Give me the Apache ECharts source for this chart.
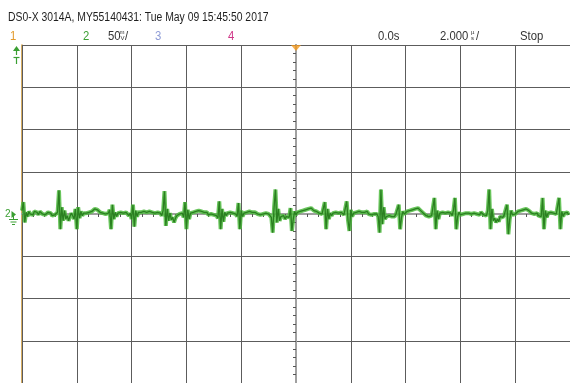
<!DOCTYPE html>
<html>
<head>
<meta charset="utf-8">
<script src="https://cdn.jsdelivr.net/npm/echarts@6/dist/echarts.min.js"></script>
<style>
  html, body { margin: 0; padding: 0; background: #ffffff; }
  #scope { width: 570px; height: 383px; }
</style>
</head>
<body>
<div id="scope"></div>
<script>
// Time base: 2.000 us/div, 10 divisions, trigger at 0.0 s (screen centre)
const startUs = -10;
const sampleStepUs = 0.05;
const timeMinUs = -10;
const timeMaxUs = 10;
const timeDivUs = 2;

// Vertical scale: channel 2 at 50 mV/div, 8 divisions
const voltMinMv = -200;
const voltMaxMv = 200;
const voltDivMv = 50;

// Channel 2 acquisition (mV), one sample every sampleStepUs
const ch2Mv = [
  4, 14, -10, 2, -3, 3, 0, 2, -1, 3, 1, 2, -1, 3, 1, 0, 2, -1, 1, 2,
  0, 1, -2, 0, -1, -3, 2, 28, -18, 8, -8, 4, -6, -2, -8, -3, 1, -2, -6, 6,
  -18, 8, -5, 3, -2, 1, 2, 1, 3, 2, 4, 3, 5, 6, 4, 5, 3, 2, 0, 1,
  -1, 0, -2, 1, 5, -18, 11, -6, 2, -3, 1, -1, 2, 0, 1, -1, 2, 0, -2, 1,
  -6, 11, -15, 4, -3, 2, 0, 2, 1, 3, 1, 2, 0, 3, 1, 2, 0, 1, -1, 2,
  0, 1, -2, 4, 27, -14, 6, -8, 1, -7, -4, -10, -5, -2, -4, 0, -2, 1, -4, 14,
  -18, 5, -6, 1, -1, 2, 1, 3, 2, 4, 2, 3, 1, 2, 0, 2, -1, 1, 0, 2,
  -1, 1, -2, -5, 15, -18, 6, -9, 2, -2, 1, -1, 2, 0, 1, -1, 0, -3, 13, -18,
  4, -3, 1, -1, 2, 1, 3, 1, 2, 0, 2, 1, 0, 2, -1, 1, 0, -2, 1, -1,
  0, -2, -4, -22, 8, 29, -10, 6, -8, -3, -5, -2, -6, -3, -1, -4, 7, -20, -6, 3,
  -1, 2, 1, 3, 2, 4, 3, 5, 4, 6, 5, 7, 5, 4, 5, 3, 2, 1, -1, 0,
  -2, 14, -18, 6, -6, 1, -2, 1, 0, 2, 0, 1, -1, 2, 0, -1, 1, 15, -8, -20,
  5, -3, 1, 0, 2, 1, 3, 1, 2, 0, 2, 1, 3, 0, 1, -1, 1, 0, -2, 0,
  -3, -22, 29, -12, 8, -6, -3, -5, -2, -4, -3, -1, -3, 0, -2, 11, -18, -4, 3, 0,
  2, 3, 2, 4, 3, 5, 4, 6, 5, 7, 5, 4, 2, 1, -1, -2, -4, -3, -5, -2,
  -4, 19, -18, 4, -6, 1, -1, 2, 0, 1, -1, 2, 0, 1, -2, 5, 19, -18, -3, 2,
  -1, 1, 0, 2, 1, 3, 1, 2, 0, 2, 1, 3, 0, 1, -1, 2, 0, -1, 1, -2,
  4, 29, -18, 6, -8, -5, -10, -6, -9, -3, -2, -4, -1, -3, 11, -24, -6, 4, -1, 1,
  0, 2, 3, 2, 4, 3, 5, 4, 6, 5, 4, 3, 1, 2, 0, -1, 1, -2, 0, -3,
  19, -18, 4, -4, 1, -1, 2, 0, 1, -1, 0, -2, 19, -18, 3, -3, 1, 0, 2, -1
];

// Header texts
const headerLine = 'DS0-X 3014A, MY55140431: Tue May 09 15:45:50 2017';
const ch2Scale = '50';
const timeOffset = '0.0s';
const timeScale = '2.000';
const runState = 'Stop';

const ch2Points = ch2Mv.map((v, i) => [startUs + i * sampleStepUs, v]);

const GRID_COLOR = '#5c5c5c';
const AXIS_COLOR = '#a0a0a0';
const TICK_COLOR = '#555555';
const CH1 = '#e39a2c';
const CH2 = '#3a9f32';
const CH3 = '#8d9bd6';
const CH4 = '#cf3587';
const FONT = "'Liberation Sans', Arial, sans-serif";
const SQUEEZE = 0.87;

function centreAxis(min, max, interval, inside, withGrid) {
  return {
    type: 'value', min: min, max: max, interval: interval,
    axisLine: { show: true, onZero: true, onZeroAxisIndex: 0, lineStyle: { color: AXIS_COLOR, width: 2 } },
    axisTick: { show: true, inside: inside, length: 3, lineStyle: { color: TICK_COLOR, width: 1 } },
    minorTick: { show: true, splitNumber: 5, length: 3, lineStyle: { color: TICK_COLOR, width: 1 } },
    axisLabel: { show: false },
    splitLine: { show: withGrid, lineStyle: { color: GRID_COLOR, width: 1 } },
    z: 1
  };
}

const chart = echarts.init(document.getElementById('scope'), null, { renderer: 'canvas' });

// condensed status-bar text (scaled horizontally from its left edge)
const txt = (x, y, text, color, size, squeeze) => ({
  type: 'text', x: x, y: y, silent: true, scaleX: squeeze == null ? SQUEEZE : squeeze,
  style: { text: text, fill: color, font: size + 'px ' + FONT, textVerticalAlign: 'middle' }
});

chart.setOption({
  animation: false,
  backgroundColor: '#ffffff',
  grid: { left: 22, top: 45, width: 552, height: 339, show: false },
  xAxis: [
    centreAxis(timeMinUs, timeMaxUs, timeDivUs, false, true),
    centreAxis(timeMinUs, timeMaxUs, timeDivUs, true, false)
  ],
  yAxis: [
    centreAxis(voltMinMv, voltMaxMv, voltDivMv, false, true),
    centreAxis(voltMinMv, voltMaxMv, voltDivMv, true, false),
    {
      type: 'value', min: voltMinMv, max: voltMaxMv, position: 'left',
      axisLine: { show: true, onZero: false, lineStyle: { color: '#c8922e', width: 1.5 } },
      axisTick: { show: false }, axisLabel: { show: false }, splitLine: { show: false }
    }
  ],
  series: [
    {
      name: 'ch2-glow', type: 'line', data: ch2Points, showSymbol: false, z: 5,
      lineStyle: { color: '#4fbb40', width: 4, opacity: 0.85 }, silent: true
    },
    {
      name: 'ch2', type: 'line', data: ch2Points, showSymbol: false, z: 6,
      lineStyle: { color: '#2a7f20', width: 1.3 }, silent: true
    },
    {
      name: 'trigger', type: 'scatter', data: [[0, voltMaxMv]], z: 7,
      symbol: 'triangle', symbolRotate: 180, symbolSize: [10, 6], symbolOffset: [0, 3],
      itemStyle: { color: '#f29a1f' }, silent: true
    }
  ],
  graphic: [
    txt(8, 18, headerLine, '#1e1e1e', 12, 0.865),
    txt(10, 36, '1', CH1, 13),
    txt(83, 36, '2', CH2, 13),
    txt(108, 36, ch2Scale, '#333333', 13),
    txt(119.5, 32, 'm', '#333333', 6, 1),
    txt(120.5, 38, 'V', '#333333', 6, 1),
    txt(125, 36, '/', '#333333', 13),
    txt(155, 36, '3', CH3, 13),
    txt(228, 36, '4', CH4, 13),
    txt(378, 36, timeOffset, '#333333', 13),
    txt(440, 36, timeScale, '#333333', 13),
    txt(471, 32, 'µ', '#333333', 6, 1),
    txt(471, 38, 's', '#333333', 6, 1),
    txt(476, 36, '/', '#333333', 13),
    txt(520, 36, runState, '#333333', 13),
    // channel 2 trigger level indicator (above screen)
    { type: 'polygon', silent: true, shape: { points: [[16.5, 46], [13, 51], [20, 51]] }, style: { fill: CH2 } },
    { type: 'line', silent: true, shape: { x1: 16.5, y1: 51, x2: 16.5, y2: 55 }, style: { stroke: CH2, lineWidth: 1.2 } },
    { type: 'line', silent: true, shape: { x1: 13.5, y1: 57.5, x2: 19.5, y2: 57.5 }, style: { stroke: CH2, lineWidth: 1.2 } },
    { type: 'line', silent: true, shape: { x1: 16.5, y1: 57.5, x2: 16.5, y2: 64 }, style: { stroke: CH2, lineWidth: 1.2 } },
    // channel 2 ground reference marker
    txt(5, 214, '2', CH2, 10, 1),
    { type: 'polygon', silent: true, shape: { points: [[11.5, 211], [16, 214.5], [11.5, 218]] }, style: { fill: CH2 } },
    { type: 'line', silent: true, shape: { x1: 13.5, y1: 215, x2: 13.5, y2: 219.5 }, style: { stroke: CH2, lineWidth: 1 } },
    { type: 'line', silent: true, shape: { x1: 9, y1: 219.5, x2: 18, y2: 219.5 }, style: { stroke: CH2, lineWidth: 1 } },
    { type: 'line', silent: true, shape: { x1: 10.5, y1: 222, x2: 16.5, y2: 222 }, style: { stroke: CH2, lineWidth: 1 } },
    { type: 'line', silent: true, shape: { x1: 12, y1: 224.5, x2: 15, y2: 224.5 }, style: { stroke: CH2, lineWidth: 1 } }
  ]
});
</script>
</body>
</html>
